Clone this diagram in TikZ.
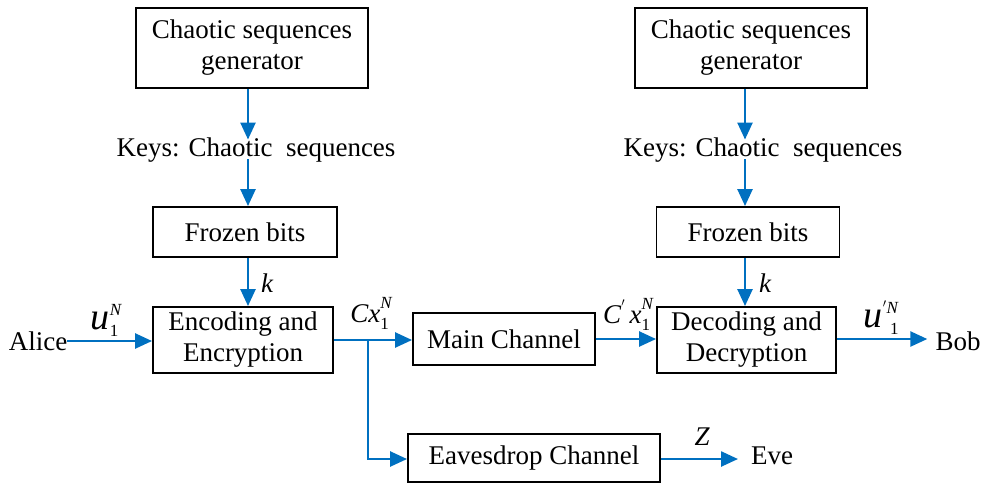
\documentclass[tikz,border=0pt]{standalone}
\usepackage{fontspec}
\setmainfont{Liberation Serif}
\usetikzlibrary{arrows.meta}
\definecolor{flow}{RGB}{0,112,192}
% stacked subscript / superscript in text font
\newcommand\idx[2]{\rlap{\raisebox{-7pt}{\fontsize{17}{17}\selectfont #1}}\raisebox{14pt}{\fontsize{17}{17}\selectfont\itshape #2}}
\begin{document}
\begin{tikzpicture}[x=1pt,y=-1pt,
  every node/.style={font=\fontsize{27}{31}\selectfont, inner sep=0pt},
  block/.style={draw, line width=1.9pt, align=center},
  arr/.style={draw=flow, line width=2.5pt, -{Triangle[length=17pt,width=15pt]}},
  wire/.style={draw=flow, line width=2.5pt}]
\useasboundingbox (0,0) rectangle (981,483);

% columns of the key arrows
\coordinate (colL) at (248,0);
\coordinate (colR) at (745,0);

% transmitter side
\node[block, minimum width=232pt, minimum height=80pt] (genL) at (252,48) {Chaotic sequences\\generator};
\node (keysL) at (256,150) {Keys: Chaotic\ \ sequences};
\node[block, minimum width=184pt, minimum height=50pt] (frzL) at (245,232) {Frozen bits};
\node[block, minimum width=180pt, minimum height=66pt] (enc) at (243,340) {Encoding and\\Encryption};
\node (alice) at (38,341) {Alice};

% receiver side
\node[block, minimum width=232pt, minimum height=80pt] (genR) at (751,48) {Chaotic sequences\\generator};
\node (keysR) at (763,150) {Keys: Chaotic\ \ sequences};
\node[block, minimum width=183pt, minimum height=50pt] (frzR) at (748,232) {Frozen bits};
\node[block, minimum width=179pt, minimum height=66pt] (dec) at (746.5,340) {Decoding and\\Decryption};
\node (bob) at (958,341) {Bob};

% channels
\node[block, minimum width=182pt, minimum height=52pt] (main) at (504,339) {Main Channel};
\node[block, minimum width=252pt, minimum height=48pt] (eaves) at (534,458) {Eavesdrop Channel};
\node (eve) at (772,456) {Eve};

% key paths
\draw[arr] (genL.south -| colL) -- ([yshift=-2pt]keysL.north -| colL);
\draw[arr] ([yshift=3pt]keysL.south -| colL) -- (frzL.north -| colL);
\draw[arr] (frzL.south -| colL) -- (enc.north -| colL);
\node[font=\fontsize{27}{31}\selectfont\itshape] (kL) at (267,283) {k};

\draw[arr] (genR.south -| colR) -- ([yshift=-2pt]keysR.north -| colR);
\draw[arr] ([yshift=3pt]keysR.south -| colR) -- (frzR.north -| colR);
\draw[arr] (frzR.south -| colR) -- (dec.north -| colR);
\node[font=\fontsize{27}{31}\selectfont\itshape] (kR) at (765,283) {k};

% data path
\draw[arr] (alice.east) -- (alice.east -| enc.west);
\node (uin) at (106,320) {\fontsize{38}{38}\selectfont\textit{u}\idx{1}{N}};

\coordinate (split) at (368,340);
\draw[arr] (enc.east |- split) -- (main.west |- split);
\draw[arr] (split) |- (eaves.west |- 0,459);
\node (cx) at (371,313) {\textit{Cx}\idx{1}{N}};

\draw[arr] (main.east) -- (main.east -| dec.west);
\node (cpx) at (628,314) {\textit{C}\raisebox{10pt}{\fontsize{17}{17}\selectfont$'$}\,\textit{x}\idx{1}{N}};

\draw[arr] (dec.east |- main.east) -- ([xshift=-8pt]bob.west |- main.east);
\node (uout) at (881,318) {\fontsize{38}{38}\selectfont\textit{u}\rlap{\raisebox{-7pt}{\fontsize{17}{17}\selectfont\ \,1}}\raisebox{14pt}{\fontsize{17}{17}\selectfont\itshape $'$N}};

\coordinate (eveIn) at (738,459);
\draw[arr] (eaves.east |- eveIn) -- (eveIn);
\node[font=\fontsize{27}{31}\selectfont\itshape] (z) at (702,437) {Z};
\end{tikzpicture}
\end{document}
